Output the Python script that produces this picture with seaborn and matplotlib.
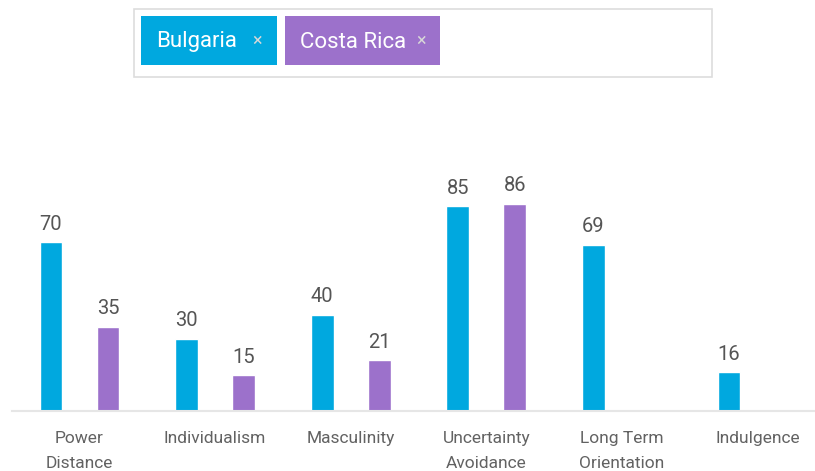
import numpy as np
import pandas as pd
import matplotlib
matplotlib.use('Agg')
import matplotlib.pyplot as plt
from matplotlib.patches import Rectangle
import seaborn as sns

dimensions = ['Power\nDistance', 'Individualism', 'Masculinity',
              'Uncertainty\nAvoidance', 'Long Term\nOrientation', 'Indulgence']
countries = ['Bulgaria', 'Costa Rica']
bulgaria = [70, 30, 40, 85, 69, 16]
costa_rica = [35, 15, 21, 86, np.nan, np.nan]
colors = ['#00a8df', '#9c71cb']

df = pd.DataFrame({
    'dimension': dimensions * 2,
    'country': ['Bulgaria'] * 6 + ['Costa Rica'] * 6,
    'score': bulgaria + costa_rica,
})

sns.set_style('white')
plt.rcParams['font.family'] = ['Roboto', 'DejaVu Sans']

fig = plt.figure(figsize=(8.15, 4.71), dpi=100)
ax = fig.add_axes([0, 60 / 471, 1, 241 / 471])

sns.barplot(data=df, x='dimension', y='score', hue='country', order=dimensions,
            hue_order=countries, palette=colors, width=0.84, gap=0.6,
            legend=False, ax=ax, saturation=1)

for c in ax.containers:
    ax.bar_label(c, fmt='%d', padding=6, color='#555555', fontsize=14.5)

ax.set_ylim(0, 100)
ax.set_xlim(-0.586, 5.424)
ax.set_xlabel('')
ax.set_ylabel('')
ax.set_yticks([])
ax.tick_params(axis='x', length=0, pad=14.5, labelsize=12.5, labelcolor='#626262')
plt.setp(ax.get_xticklabels(), linespacing=1.85)
for s in ['top', 'right', 'left']:
    ax.spines[s].set_visible(False)
ax.spines['bottom'].set_color('#e6e6e6')
ax.spines['bottom'].set_linewidth(1.5)
ax.spines['bottom'].set_bounds(-0.498, 5.424)

# tag box at top
W, H = 815, 471
def px_rect(x0, y0, x1, y1, **kw):
    fig.patches.append(Rectangle((x0 / W, 1 - y1 / H), (x1 - x0) / W, (y1 - y0) / H,
                                 transform=fig.transFigure, figure=fig, **kw))

px_rect(134, 9, 712, 77, facecolor='white', edgecolor='#dddddd', linewidth=1.2)
tags = [(141, 277, 'Bulgaria', colors[0], 257), (285, 440, 'Costa Rica', colors[1], 421)]
for x0, x1, name, col, xx in tags:
    px_rect(x0, 16, x1, 65, facecolor=col, edgecolor='none')
    fig.text((x0 + 15) / W, 1 - 42 / H, name, color='white', fontsize=16,
             va='center', ha='left')
    fig.text(xx / W, 1 - 41 / H, '×', color='#d8d8d8', fontsize=13,
             va='center', ha='center')

fig.savefig('out.png', dpi=100)
